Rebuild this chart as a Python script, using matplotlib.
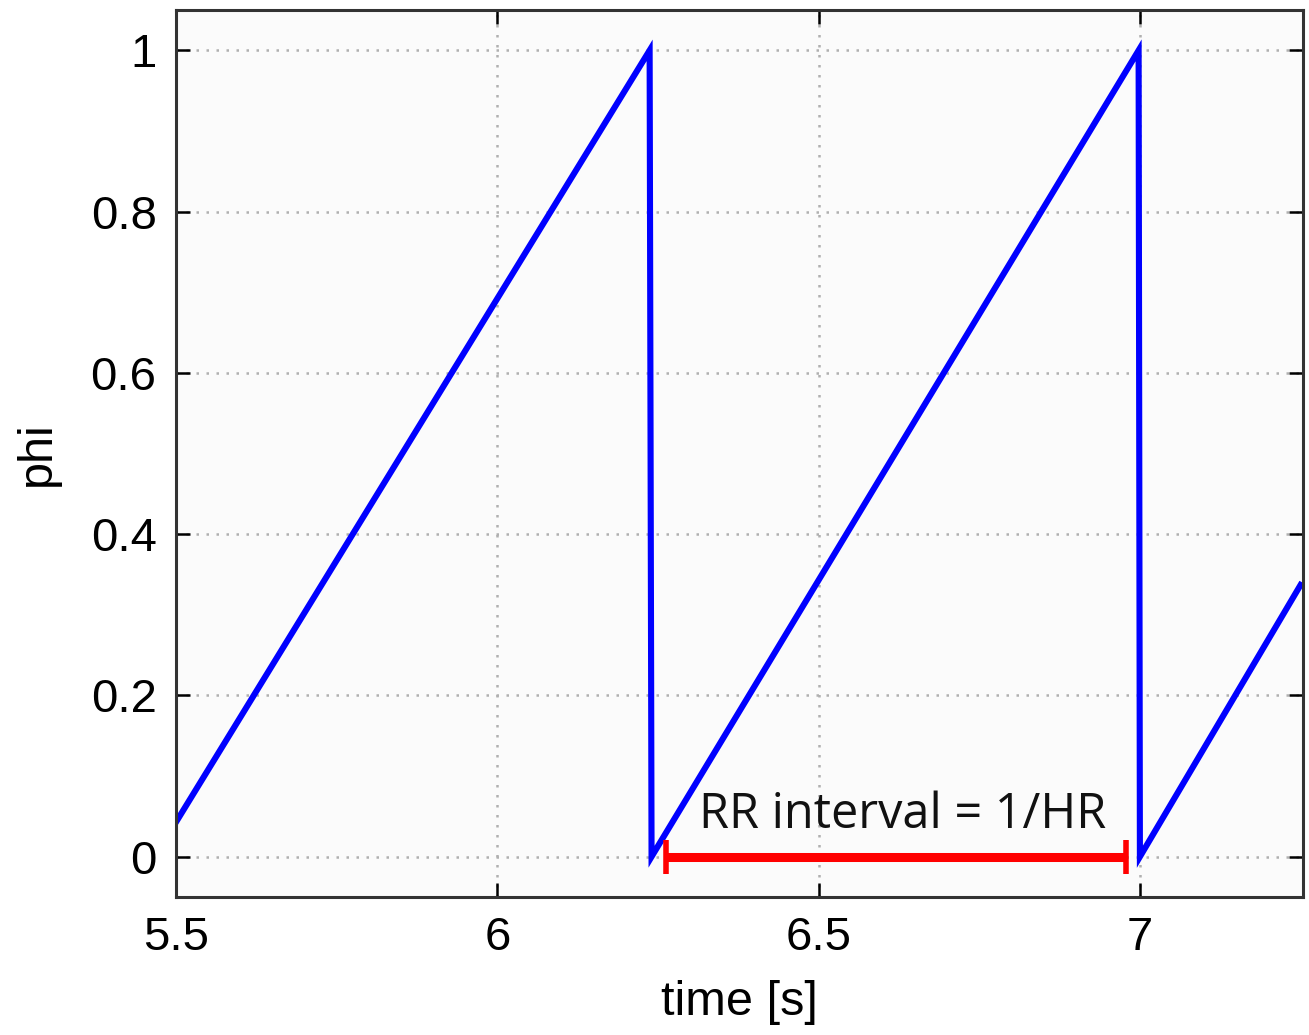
import matplotlib
matplotlib.use('Agg')
import matplotlib.pyplot as plt

# phase sawtooth
time_s = [5.5, 6.237, 6.240, 6.998, 7.0, 7.25]
phi = [0.043, 1.0, 0.0, 1.0, 0.0, 0.337]

# RR interval marker
rr_start = 6.263
rr_end = 6.978
rr_label = 'RR interval = 1/HR'

xticks = [5.5, 6, 6.5, 7]
xtick_labels = ['5.5', '6', '6.5', '7']
yticks = [0, 0.2, 0.4, 0.6, 0.8, 1]
ytick_labels = ['0', '0.2', '0.4', '0.6', '0.8', '1']

plt.rcParams['font.family'] = ['Liberation Sans', 'DejaVu Sans']

fig = plt.figure(figsize=(13.09, 10.35), dpi=100)
ax = fig.add_axes([0.1345, 0.1333, 0.861, 0.857])
ax.set_facecolor('#fbfbfb')

ax.plot(time_s, phi, color='#0000ff', lw=4.4, solid_joinstyle='miter')
ax.errorbar([(rr_start + rr_end) / 2], [0], xerr=[(rr_end - rr_start) / 2],
            color='#ff0000', elinewidth=6.5, capsize=12.5, capthick=4, fmt='none')
ax.text(6.63, 0.052, rr_label, fontsize=35,
        family=['Open Sans', 'DejaVu Sans'], ha='center', va='center',
        color='#111111')

ax.set_xlim(5.5, 7.254)
ax.set_ylim(-0.05, 1.05)
ax.set_xticks(xticks)
ax.set_xticklabels(xtick_labels)
ax.set_yticks(yticks)
ax.set_yticklabels(ytick_labels)
ax.tick_params(direction='in', top=True, right=True, length=10, width=1.8,
               labelsize=34, pad=14)
for s in ax.spines.values():
    s.set_linewidth(2.2)
    s.set_color('#333333')
ax.grid(True, linestyle=(0, (1, 3)), color='#b0b0b0', lw=1.8)

ax.set_xlabel('time [s]', fontsize=35, labelpad=14)
ax.set_ylabel('phi', fontsize=35, labelpad=22)

fig.savefig('out.png', dpi=100)
